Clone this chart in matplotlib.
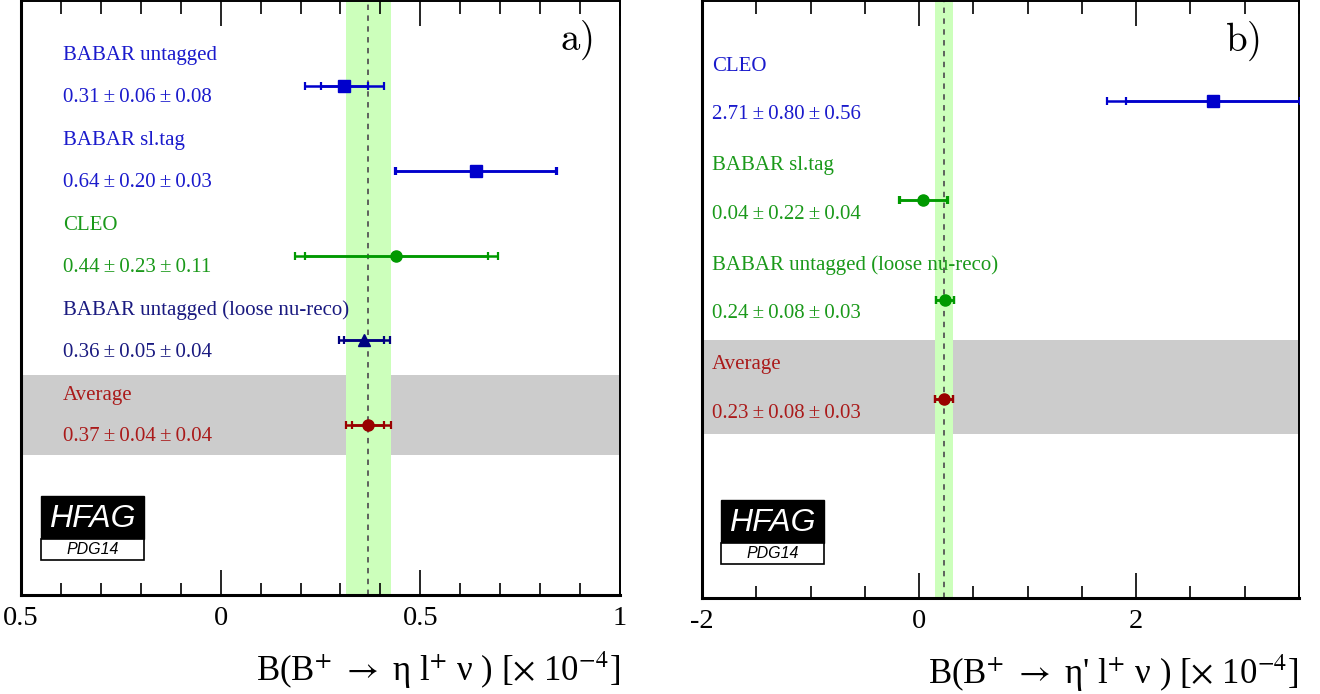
import numpy as np
import matplotlib
matplotlib.use("Agg")
import matplotlib.pyplot as plt
from matplotlib.patches import Rectangle
from matplotlib.ticker import MultipleLocator, FixedLocator, FixedFormatter

plt.rcParams['font.family'] = ['Liberation Serif', 'DejaVu Serif']
plt.rcParams['mathtext.fontset'] = 'stix'
plt.rcParams['axes.unicode_minus'] = False

# ---------------- data ----------------
left_names = ['BABAR untagged', 'BABAR sl.tag', 'CLEO',
              'BABAR untagged (loose nu-reco)', 'Average']
left_val = [0.31, 0.64, 0.44, 0.36, 0.37]
left_stat = [0.06, 0.20, 0.23, 0.05, 0.04]
left_syst = [0.08, 0.03, 0.11, 0.04, 0.04]
left_markers = ['s', 's', 'o', '^', 'o']
left_colors = ['#0000cc', '#0000cc', '#009900', '#000080', '#990000']
left_text_colors = ['#1a1acc', '#1a1acc', '#1a991a', '#1a1a80', '#aa1a1a']
left_ticks = [-0.5, 0, 0.5, 1]
left_ticklabels = ['0.5', '0', '0.5', '1']
left_xlabel = r'B(B$^{+}$ $\rightarrow$ η l$^{+}$ ν ) [$\times$ 10$^{-4}$]'

right_names = ['CLEO', 'BABAR sl.tag', 'BABAR untagged (loose nu-reco)', 'Average']
right_val = [2.71, 0.04, 0.24, 0.23]
right_stat = [0.80, 0.22, 0.08, 0.08]
right_syst = [0.56, 0.04, 0.03, 0.03]
right_markers = ['s', 'o', 'o', 'o']
right_colors = ['#0000cc', '#009900', '#009900', '#990000']
right_text_colors = ['#1a1acc', '#1a991a', '#1a991a', '#aa1a1a']
right_ticks = [-2, 0, 2]
right_ticklabels = ['-2', '0', '2']
right_xlabel = r"B(B$^{+}$ $\rightarrow$ η' l$^{+}$ ν ) [$\times$ 10$^{-4}$]"

W, H = 1320, 694
fig = plt.figure(figsize=(W / 100, H / 100), dpi=100)
HS = '\u2009'


def panel(rect_px, names, val, stat, syst, markers, colors, tcolors,
          xlim, ticks, ticklabels, minor, xlabel, tag, text_x, tag_pos,
          logo_px):
    l, t, r, b = rect_px
    ax = fig.add_axes([l / W, 1 - b / H, (r - l) / W, (b - t) / H])
    n = len(names)
    rows = np.arange(n)
    ax.set_xlim(*xlim)
    ax.set_ylim(n + 1.0, -1.0)
    ax.set_yticks([])

    val = np.array(val)
    stat = np.array(stat)
    syst = np.array(syst)
    tot = np.sqrt(stat ** 2 + syst ** 2)

    # average band
    avg_i = n - 1
    ax.axhspan(rows[avg_i] - 0.59, rows[avg_i] + 0.355, color='#cccccc', lw=0, zorder=0)
    ax.axvspan(val[avg_i] - tot[avg_i], val[avg_i] + tot[avg_i], color='#ccffbb', lw=0, zorder=1)
    ax.axvline(val[avg_i], color='#555555', lw=1.3, ls=(0, (3, 3)), zorder=2)

    for i in range(n):
        c = colors[i]
        ax.errorbar(val[i], rows[i], xerr=tot[i], fmt='none', ecolor=c,
                    elinewidth=1.8, capsize=3.0, capthick=1.6, zorder=3)
        ax.errorbar(val[i], rows[i], xerr=stat[i], fmt='none', ecolor=c,
                    elinewidth=1.8, capsize=3.0, capthick=1.6, zorder=3)
        ax.plot(val[i], rows[i], marker=markers[i], color=c, ms=8,
                mec=c, ls='none', zorder=4)
        ax.text(text_x, rows[i] - 0.30, names[i], color=tcolors[i],
                fontsize=15, ha='left', va='baseline', zorder=5)
        ax.text(text_x, rows[i] + 0.19,
                f'{val[i]:.2f}{HS}±{HS}{stat[i]:.2f}{HS}±{HS}{syst[i]:.2f}',
                color=tcolors[i], fontsize=15, ha='left', va='baseline', zorder=5)

    ax.xaxis.set_major_locator(FixedLocator(ticks))
    ax.xaxis.set_major_formatter(FixedFormatter(ticklabels))
    ax.xaxis.set_minor_locator(MultipleLocator(minor))
    ax.tick_params(axis='x', which='major', direction='in', top=True,
                   length=18, width=1.2, labelsize=20.5, pad=8)
    ax.tick_params(axis='x', which='minor', direction='in', top=True,
                   length=9, width=1.2)
    for s in ['left', 'bottom']:
        ax.spines[s].set_linewidth(2.2)
    for s in ['top', 'right']:
        ax.spines[s].set_linewidth(1.4)

    ax.set_xlabel(xlabel, loc='right', fontsize=25, labelpad=13)

    ax.text(tag_pos[0], tag_pos[1], tag, transform=ax.transAxes,
            fontsize=28, math_fontfamily='cm', ha='center', va='center')

    # HFAG logo
    lx0, ly0, lx1, lsplit, ly1 = logo_px
    def fx(px):
        return (px - l) / (r - l)
    def fy(py):
        return (b - py) / (b - t)
    ax.add_patch(Rectangle((fx(lx0), fy(lsplit)), fx(lx1) - fx(lx0), fy(ly0) - fy(lsplit),
                           transform=ax.transAxes, facecolor='black',
                           edgecolor='black', lw=1, zorder=6))
    ax.add_patch(Rectangle((fx(lx0), fy(ly1)), fx(lx1) - fx(lx0), fy(lsplit) - fy(ly1),
                           transform=ax.transAxes, facecolor='white',
                           edgecolor='black', lw=1.2, zorder=6))
    ax.text((fx(lx0) + fx(lx1)) / 2, (fy(ly0) + fy(lsplit)) / 2 - 0.002, 'HFAG',
            transform=ax.transAxes, color='white', fontsize=23,
            family='Liberation Sans', style='italic', ha='center', va='center', zorder=7)
    ax.text((fx(lx0) + fx(lx1)) / 2, (fy(lsplit) + fy(ly1)) / 2, 'PDG14',
            transform=ax.transAxes, color='black', fontsize=11.5,
            family='Liberation Sans', style='italic', ha='center', va='center', zorder=7)
    return ax


panel((21, 1, 620, 595), left_names, left_val, left_stat, left_syst,
      left_markers, left_colors, left_text_colors,
      (-0.5, 1.0), left_ticks, left_ticklabels, 0.1, left_xlabel, r'$\mathrm{a)}$',
      -0.395, (0.9265, 0.933), (41, 496, 144, 539, 560))

panel((702, 1, 1299, 598), right_names, right_val, right_stat, right_syst,
      right_markers, right_colors, right_text_colors,
      (-2.0, 3.5), right_ticks, right_ticklabels, 0.5, right_xlabel, r'$\mathrm{b)}$',
      -1.908, (0.906, 0.933), (721, 500, 824, 543, 564))

fig.savefig('out.png', dpi=100)
